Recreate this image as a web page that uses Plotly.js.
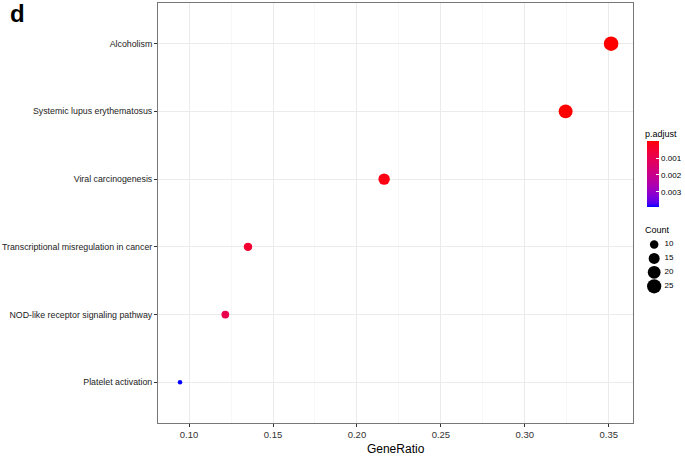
<!DOCTYPE html>
<html>
<head>
<meta charset="utf-8">
<script src="https://cdn.plot.ly/plotly-3.0.1.min.js"></script>
<style>html,body{margin:0;padding:0;background:#fff;}#chart{width:685px;height:456px;}</style>
</head>
<body>
<div id="chart"></div>
<script>
// ---- data ----
var pathways = ["Platelet activation", "NOD-like receptor signaling pathway", "Transcriptional misregulation in cancer", "Viral carcinogenesis", "Systemic lupus erythematosus", "Alcoholism"];
var geneRatio = [0.0946, 0.1216, 0.1351, 0.2162, 0.3243, 0.3514];
var counts = [7, 9, 10, 16, 24, 26];
var pAdjust = [0.0039, 0.0009, 0.0005, 0.00015, 0.000003, 0.0000001];
var xTicks = [0.10, 0.15, 0.20, 0.25, 0.30, 0.35];
var xTickLabels = ["0.10", "0.15", "0.20", "0.25", "0.30", "0.35"];
var pTicks = [0.001, 0.002, 0.003];
var pTickLabels = ["0.001", "0.002", "0.003"];
var countLegend = [10, 15, 20, 25];

// ---- helpers: Lab interpolation like ggplot's gradient ----
function lin(c){c/=255;return c<=0.04045?c/12.92:Math.pow((c+0.055)/1.055,2.4);}
function unlin(c){c=c<=0.0031308?12.92*c:1.055*Math.pow(c,1/2.4)-0.055;return Math.round(Math.max(0,Math.min(1,c))*255);}
function f(t){return t>0.008856?Math.cbrt(t):7.787*t+16/116;}
function finv(t){var t3=t*t*t;return t3>0.008856?t3:(t-16/116)/7.787;}
function toLab(rgb){
  var r=lin(rgb[0]),g=lin(rgb[1]),b=lin(rgb[2]);
  var X=(0.4124*r+0.3576*g+0.1805*b)/0.95047,Y=0.2126*r+0.7152*g+0.0722*b,Z=(0.0193*r+0.1192*g+0.9505*b)/1.08883;
  return [116*f(Y)-16,500*(f(X)-f(Y)),200*(f(Y)-f(Z))];
}
function fromLab(lab){
  var fy=(lab[0]+16)/116,fx=fy+lab[1]/500,fz=fy-lab[2]/200;
  var X=0.95047*finv(fx),Y=finv(fy),Z=1.08883*finv(fz);
  var r=3.2406*X-1.5372*Y-0.4986*Z,g=-0.9689*X+1.8758*Y+0.0415*Z,b=0.0557*X-0.2040*Y+1.0570*Z;
  return 'rgb('+unlin(r)+','+unlin(g)+','+unlin(b)+')';
}
var labBlue=toLab([0,0,255]), labRed=toLab([255,0,0]);
var cscale=[];
for(var i=0;i<=20;i++){
  var t=i/20;
  cscale.push([t,fromLab([labBlue[0]+(labRed[0]-labBlue[0])*t,labBlue[1]+(labRed[1]-labBlue[1])*t,labBlue[2]+(labRed[2]-labBlue[2])*t])]);
}

var cMin=Math.min.apply(null,counts), cMax=Math.max.apply(null,counts);
function sizeOf(v){return 4.5+10*Math.sqrt(Math.max(0,(v-cMin)/(cMax-cMin)));}

var negP=pAdjust.map(function(p){return -p;});
var pMin=Math.min.apply(null,pAdjust), pMax=Math.max.apply(null,pAdjust);

var font="Liberation Sans, Arial, sans-serif";

var traces=[{
  type:'scatter', mode:'markers',
  x:geneRatio, y:pathways,
  marker:{
    size:counts.map(sizeOf),
    color:negP, cmin:-pMax, cmax:-pMin, colorscale:cscale,
    line:{width:0}, opacity:1,
    colorbar:{
      x:0.9336, xanchor:'left', y:0.5926, yanchor:'middle',
      thickness:12, thicknessmode:'pixels', len:66, lenmode:'pixels',
      outlinewidth:0, ticks:'inside', ticklen:3, tickcolor:'#fff', tickwidth:1,
      tickvals:pTicks.map(function(p){return -p;}), ticktext:pTickLabels,
      tickfont:{family:font,size:8,color:'#000'}, xpad:0, ypad:0, ticklabelpadding:4
    }
  },
  showlegend:false, hoverinfo:'x+y'
},{
  type:'scatter', mode:'markers',
  x:countLegend.map(function(){return 0;}), y:countLegend,
  marker:{size:countLegend.map(sizeOf), color:'#000', opacity:1, line:{width:0}},
  xaxis:'x2', yaxis:'y2', showlegend:false, hoverinfo:'skip', cliponaxis:false
},{
  type:'scatter', mode:'text',
  x:countLegend.map(function(){return 0.3;}), y:countLegend,
  text:countLegend.map(String), textposition:'middle right',
  textfont:{family:font,size:8,color:'#000'},
  xaxis:'x2', yaxis:'y2', showlegend:false, hoverinfo:'skip', cliponaxis:false
}];

var layout={
  width:685, height:456,
  margin:{l:158, r:0, t:3, b:33},
  paper_bgcolor:'#fff', plot_bgcolor:'#fff',
  font:{family:font, color:'#000'},
  xaxis:{
    domain:[0,0.9070],
    range:[0.0815,0.3646],
    tickvals:xTicks, ticktext:xTickLabels,
    ticks:'outside', ticklen:3, tickcolor:'#333', tickwidth:1,
    tickfont:{family:font,size:9.5,color:'#333'},
    showgrid:true, gridcolor:'#EBEBEB', gridwidth:1,
    minor:{dtick:0.025, tick0:0.075, showgrid:true, gridcolor:'#F2F2F2', gridwidth:0.6, ticks:''},
    showline:true, mirror:true, linecolor:'#777', linewidth:1,
    zeroline:false,
    title:{text:'GeneRatio', font:{family:font,size:12,color:'#000'}, standoff:8}
  },
  yaxis:{
    type:'category', categoryorder:'array', categoryarray:pathways,
    range:[-0.6,5.6],
    ticks:'outside', ticklen:3, tickcolor:'#333', tickwidth:1,
    tickfont:{family:font,size:8.8,color:'#222'},
    showgrid:true, gridcolor:'#EBEBEB', gridwidth:1,
    showline:true, mirror:true, linecolor:'#777', linewidth:1,
    zeroline:false
  },
  xaxis2:{domain:[0.9336,1], range:[-0.2,0.8], visible:false, fixedrange:true},
  yaxis2:{domain:[0.3088,0.4418], range:[27.5,7.5], visible:false, fixedrange:true, anchor:'x2'},
  annotations:[
    {text:'<b>d</b>', xref:'paper', yref:'paper', x:-0.287, y:0.975, xanchor:'left', yanchor:'middle', showarrow:false, font:{family:font,size:24,color:'#000'}},
    {text:'p.adjust', xref:'paper', yref:'paper', x:0.926, y:0.6888, xanchor:'left', yanchor:'middle', showarrow:false, font:{family:font,size:9,color:'#000'}},
    {text:'Count', xref:'paper', yref:'paper', x:0.926, y:0.4584, xanchor:'left', yanchor:'middle', showarrow:false, font:{family:font,size:9,color:'#000'}}
  ]
};

Plotly.newPlot('chart', traces, layout, {displayModeBar:false, staticPlot:true});
</script>
</body>
</html>
